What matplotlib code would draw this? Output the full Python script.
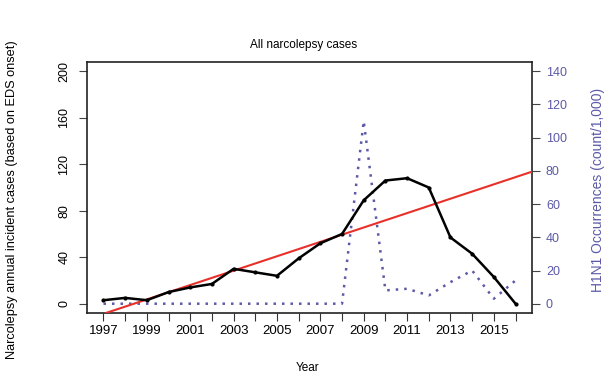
import matplotlib.pyplot as plt
import numpy as np

plt.rcParams['font.family'] = ['Liberation Sans', 'DejaVu Sans']

years = list(range(1997, 2017))
# narcolepsy annual incident cases (left axis)
cases = [3, 5, 3, 10, 14, 17, 30, 27, 24, 39, 52, 60, 89, 106, 108, 100, 57, 43, 23, 0]
# H1N1 occurrences per 1,000 (right axis)
h1n1 = [0, 0, 0, 0, 0, 0, 0, 0, 0, 0, 0, 0, 110, 8, 9, 5, 13, 20, 3, 14]
# linear trend of incident cases
trend_at_1997 = -8.7
trend_slope = 6.19

blue = '#5c5aa6'

fig = plt.figure(figsize=(6.14, 3.77), dpi=100)
ax = fig.add_axes([87/614, 1 - 313/377, (532-87)/614, (313-62)/377])

ax.plot(years, cases, color='black', lw=1.8, marker='o', ms=2, zorder=4)
ax.axline((1997, trend_at_1997), slope=trend_slope, color='#e8302a', lw=1.5, zorder=3)

ax.set_xlim(1996.24, 2016.76)
ax.set_ylim(-8, 208)
ax.set_yticks([0, 40, 80, 120, 160, 200])
ax.set_xticks(years)
ax.set_xticklabels([str(y) if y % 2 == 1 else '' for y in years])
ax.tick_params(axis='y', labelrotation=90, labelsize=9, length=6, color='#444444', pad=6)
ax.tick_params(axis='x', labelsize=9.5, length=6, color='#333333', pad=3)
for lbl in ax.get_yticklabels():
    lbl.set_verticalalignment('center')
for s in ax.spines.values():
    s.set_linewidth(1.2)
    s.set_color('#222222')

ax2 = ax.twinx()
ax2.plot(years, h1n1, color=blue, lw=1.8, linestyle=(0, (1, 2.4)), zorder=2)
ax2.set_ylim(-5.6, 145.6)
ax2.set_yticks([0, 20, 40, 60, 80, 100, 120, 140])
ax2.tick_params(axis='y', labelsize=9, length=6, colors=blue, pad=4)
ax2.tick_params(axis='y', color='#444444')
for s in ax2.spines.values():
    s.set_visible(False)

ax.set_zorder(ax2.get_zorder() + 1)
ax.patch.set_visible(False)

fig.text(304/614, 1 - 45/377, 'All narcolepsy cases', ha='center', va='center', fontsize=8.5)
fig.text(308/614, 1 - 368/377, 'Year', ha='center', va='center', fontsize=8.5)
fig.text(12/614, 1 - 200/377, 'Narcolepsy annual incident cases (based on EDS onset)',
         rotation=90, ha='center', va='center', fontsize=9.2)
fig.text(598/614, 1 - 190/377, 'H1N1 Occurrences (count/1,000)', rotation=90,
         ha='center', va='center', fontsize=10, color=blue)

fig.savefig('out.png', dpi=100)
